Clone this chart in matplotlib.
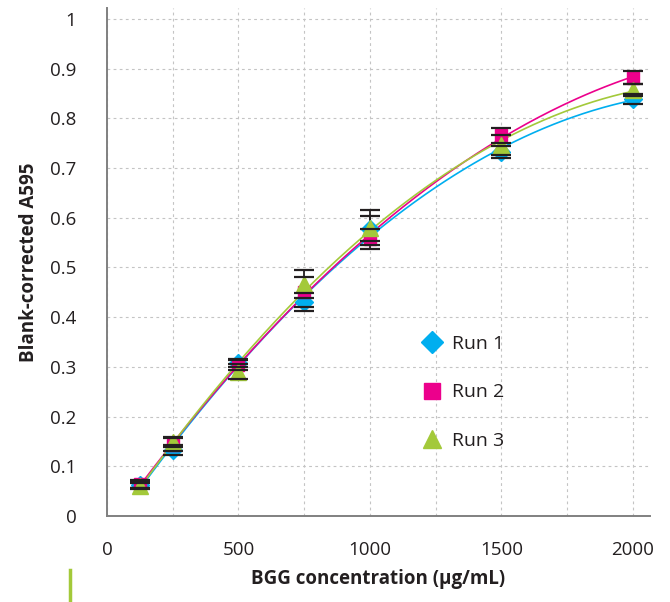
import numpy as np
import matplotlib
matplotlib.use("Agg")
import matplotlib.pyplot as plt
from matplotlib.lines import Line2D

plt.rcParams['font.family'] = ['Open Sans', 'DejaVu Sans']

conc = [125, 250, 500, 750, 1000, 1500, 2000]
run1 = [0.062, 0.132, 0.308, 0.430, 0.578, 0.733, 0.838]
run1_err = [0.006, 0.010, 0.008, 0.018, 0.025, 0.012, 0.010]
run2 = [0.064, 0.143, 0.303, 0.450, 0.558, 0.766, 0.882]
run2_err = [0.008, 0.013, 0.010, 0.030, 0.020, 0.015, 0.013]
run3 = [0.060, 0.148, 0.290, 0.466, 0.580, 0.747, 0.857]
run3_err = [0.006, 0.010, 0.015, 0.028, 0.035, 0.020, 0.012]
labels = ["Run 1", "Run 2", "Run 3"]
x_ticks = [0, 500, 1000, 1500, 2000]
y_ticks = [0, 0.1, 0.2, 0.3, 0.4, 0.5, 0.6, 0.7, 0.8, 0.9, 1]
y_ticklabels = ["0", "0.1", "0.2", "0.3", "0.4", "0.5", "0.6", "0.7", "0.8", "0.9", "1"]

colors = ["#00AEEF", "#EC008C", "#A3C93A"]
markers = ["D", "s", "^"]
msizes = [9, 9, 11]
txt = "#231F20"

fig = plt.figure(figsize=(6.7, 6.02), dpi=100)
ax = fig.add_axes([107/670, 1 - 516/602, 543/670, 508/602])

xs = np.linspace(min(conc), max(conc), 200)
series = [(run1, run1_err), (run2, run2_err), (run3, run3_err)]
handles = []
for (vals, err), c, m, ms, lab in zip(series, colors, markers, msizes, labels):
    coef = np.polyfit(conc, vals, 2)
    ax.plot(xs, np.polyval(coef, xs), color=c, lw=1.2, zorder=3)
    data_line, caps, bars = ax.errorbar(conc, vals, yerr=err, fmt='none', ecolor='#231F20',
                                        elinewidth=1.3, capsize=7, capthick=1.6)
    for cl in caps:
        cl.set_zorder(6)
    for b in bars:
        b.set_zorder(4)
    ax.plot(conc, vals, linestyle='none', marker=m, ms=ms, color=c, mec=c, zorder=5)
    handles.append(Line2D([], [], linestyle='none', marker=m, ms=ms + 2, color=c, mec=c))

ax.set_xlim(0, 2065)
ax.set_ylim(0, 1.022)
ax.set_xticks(x_ticks)
ax.set_yticks(y_ticks)
ax.set_yticklabels(y_ticklabels)
ax.set_xticks([250, 750, 1250, 1750], minor=True)
ax.grid(True, which='both', color='#C4C4C4', linestyle=(0, (2.5, 3)), linewidth=0.8)
ax.set_axisbelow(True)
ax.tick_params(axis='both', which='both', length=0, labelsize=13.5, colors=txt)
ax.tick_params(axis='x', pad=18)
ax.tick_params(axis='y', pad=22)
for s in ['top', 'right']:
    ax.spines[s].set_visible(False)
for s in ['left', 'bottom']:
    ax.spines[s].set_color('#808080')
    ax.spines[s].set_linewidth(1.4)

ax.set_xlabel("BGG concentration (µg/mL)", fontsize=13.5, fontweight='bold', color=txt, labelpad=7)
ax.set_ylabel("Blank-corrected A595", fontsize=13.5, fontweight='bold', color=txt, labelpad=8)

leg = ax.legend(handles, labels, loc='upper left', bbox_to_anchor=(0.545, 0.391), frameon=False,
                fontsize=14, labelspacing=1.57, handletextpad=0.4, handlelength=1.2,
                labelcolor=txt)

fig.add_artist(Line2D([70/670, 70/670], [1 - 570/602, 1 - 600/602], color='#A3C93A', lw=2.5))

fig.savefig("out.png", dpi=100)
